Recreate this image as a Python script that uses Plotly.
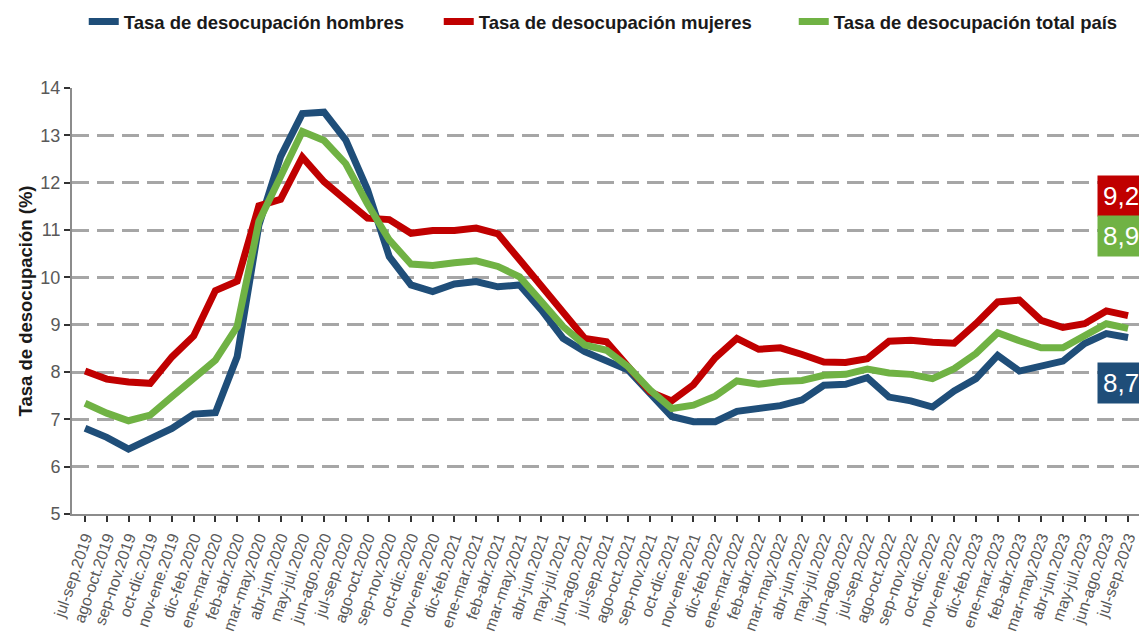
import plotly.graph_objects as go

periodos = [
    "jul-sep.2019", "ago-oct.2019", "sep-nov.2019", "oct-dic.2019", "nov-ene.2019",
    "dic-feb.2020", "ene-mar.2020", "feb-abr.2020", "mar-may.2020", "abr-jun.2020",
    "may-jul.2020", "jun-ago.2020", "jul-sep.2020", "ago-oct.2020", "sep-nov.2020",
    "oct-dic.2020", "nov-ene.2020", "dic-feb.2021", "ene-mar.2021", "feb-abr.2021",
    "mar-may.2021", "abr-jun.2021", "may-jul.2021", "jun-ago.2021", "jul-sep.2021",
    "ago-oct.2021", "sep-nov.2021", "oct-dic.2021", "nov-ene.2021", "dic-feb.2022",
    "ene-mar.2022", "feb-abr.2022", "mar-may.2022", "abr-jun.2022", "may-jul.2022",
    "jun-ago.2022", "jul-sep.2022", "ago-oct.2022", "sep-nov.2022", "oct-dic.2022",
    "nov-ene.2022", "dic-feb.2023", "ene-mar.2023", "feb-abr.2023", "mar-may.2023",
    "abr-jun.2023", "may-jul.2023", "jun-ago.2023", "jul-sep.2023",
]

hombres = [
    6.81, 6.62, 6.37, 6.58, 6.81, 7.11, 7.14, 8.32, 11.1, 12.55,
    13.46, 13.49, 12.9, 11.85, 10.44, 9.84, 9.70, 9.86, 9.91, 9.80,
    9.84, 9.31, 8.71, 8.43, 8.25, 8.04, 7.55, 7.06, 6.95, 6.95,
    7.17, 7.22, 7.29, 7.41, 7.72, 7.74, 7.88, 7.47, 7.39, 7.26,
    7.60, 7.86, 8.35, 8.02, 8.12, 8.23, 8.60, 8.81, 8.73,
]

mujeres = [
    8.02, 7.85, 7.79, 7.76, 8.32, 8.76, 9.72, 9.92, 11.51, 11.65,
    12.54, 12.02, 11.63, 11.25, 11.22, 10.93, 10.99, 10.99, 11.04, 10.92,
    10.37, 9.80, 9.27, 8.71, 8.64, 8.11, 7.58, 7.39, 7.73, 8.30,
    8.71, 8.48, 8.51, 8.37, 8.21, 8.20, 8.28, 8.65, 8.67, 8.63,
    8.61, 9.02, 9.48, 9.52, 9.09, 8.94, 9.02, 9.29, 9.19,
]

total = [
    7.34, 7.13, 6.97, 7.09, 7.48, 7.87, 8.25, 8.96, 11.18, 12.13,
    13.08, 12.89, 12.4, 11.55, 10.79, 10.28, 10.25, 10.31, 10.35, 10.23,
    10.01, 9.49, 8.96, 8.57, 8.46, 8.11, 7.62, 7.23, 7.30, 7.49,
    7.81, 7.74, 7.80, 7.82, 7.93, 7.95, 8.06, 7.98, 7.95, 7.86,
    8.07, 8.39, 8.83, 8.66, 8.51, 8.51, 8.78, 9.02, 8.92,
]

AZUL = "#1F4E79"
ROJO = "#C00000"
VERDE = "#70B244"
GRIS = "#595959"

x = list(range(len(periodos)))

fig = go.Figure()
for nombre, serie, color in [
    ("<b>Tasa de desocupación hombres</b>", hombres, AZUL),
    ("<b>Tasa de desocupación mujeres</b>", mujeres, ROJO),
    ("<b>Tasa de desocupación total país</b>", total, VERDE),
]:
    fig.add_trace(go.Scatter(x=x, y=serie, mode="lines", name=nombre,
                             line=dict(color=color, width=7)))

# etiquetas del último valor
for texto, yp, color in [("9,2", 0.746, ROJO), ("8,9", 0.652, VERDE), ("8,7", 0.307, AZUL)]:
    fig.add_annotation(text=texto, xref="paper", yref="paper", x=0.9597, y=yp,
                       xanchor="left", yanchor="middle", showarrow=False,
                       font=dict(color="white", size=26, family="Liberation Sans, Arial"),
                       bgcolor=color, borderpad=5)

# la página tiene un margen de 8px en el body, se compensa aquí
fig.update_layout(
    width=1147, height=643,
    paper_bgcolor="white", plot_bgcolor="white",
    margin=dict(l=64, r=15, t=80, b=137, autoexpand=False),
    font=dict(family="Liberation Sans, Arial", color=GRIS),
    showlegend=True,
    legend=dict(orientation="h", x=0.011, y=1.155, xanchor="left", yanchor="middle",
                font=dict(family="Liberation Sans, Arial", size=18.5, color="#1a1a1a"),
                itemwidth=30, tracegroupgap=0, entrywidth=310, entrywidthmode="pixels"),
    xaxis=dict(
        range=[-0.6, 48.55], tickmode="array", tickvals=x, ticktext=periodos,
        tickangle=-71, tickfont=dict(size=16, color=GRIS),
        showgrid=False, showline=True, linecolor="#8c8c8c", linewidth=2,
        ticks="outside", ticklen=6, tickcolor="#333333", tickwidth=2,
        zeroline=False,
    ),
    yaxis=dict(
        range=[5, 14], dtick=1, tickfont=dict(size=18, color=GRIS),
        showgrid=True, gridcolor="#A6A6A6", gridwidth=2.5, griddash="17px,8px",
        showline=True, linecolor="#8c8c8c", linewidth=2,
        ticks="outside", ticklen=6, tickcolor="#333333", tickwidth=2,
        zeroline=False,
        title=dict(text="<b>Tasa de desocupación (%)</b>",
                   font=dict(size=18.5, color="#1a1a1a"), standoff=3),
    ),
)

fig.write_html("out.html")
